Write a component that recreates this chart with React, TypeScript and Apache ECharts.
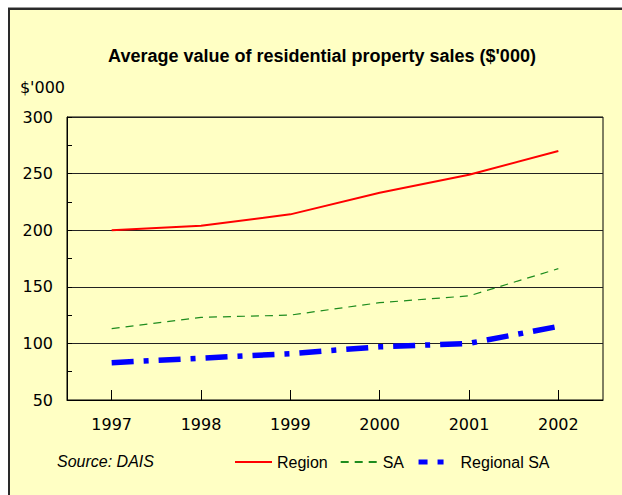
import React, { useEffect, useRef } from "react";
import * as echarts from "echarts";

const years = ["1997", "1998", "1999", "2000", "2001", "2002"];
const regionValues = [200, 204, 214, 233, 249, 270];
const saValues = [113, 123, 125, 136, 142, 166];
const regionalSaValues = [83, 87, 91, 97, 100, 115];

const titleText = "Average value of residential property sales ($'000)";
const yAxisName = "$'000";
const sourceText = "Source: DAIS";

const BG = "#FFFFC4";
const TEXT_FONT = "'Liberation Sans', Arial, sans-serif";
const NUM_FONT = "'DejaVu Sans', sans-serif";

export default function App() {
  const ref = useRef<HTMLDivElement>(null);

  useEffect(() => {
    if (!ref.current) return;
    const chart = echarts.init(ref.current, undefined, { renderer: "svg" });
    chart.setOption({
      animation: false,
      backgroundColor: BG,
      title: {
        text: titleText,
        left: 312,
        top: 37,
        padding: 0,
        textAlign: "center",
        textStyle: {
          fontFamily: TEXT_FONT,
          fontWeight: "bold",
          fontSize: 18,
          color: "#000",
        },
      },
      grid: {
        left: 57,
        right: 19,
        top: 107,
        bottom: 95,
        show: true,
        borderColor: "#000",
        borderWidth: 1,
        backgroundColor: "transparent",
        containLabel: false,
      },
      legend: {
        left: 224,
        top: 444,
        padding: 0,
        itemWidth: 37,
        itemHeight: 14,
        itemGap: 12,
        itemStyle: { opacity: 0 },
        textStyle: { fontFamily: TEXT_FONT, fontSize: 16, color: "#000" },
        data: [
          { name: "Region" },
          { name: "SA" },
          { name: "Regional SA", lineStyle: { type: [9, 10, 6, 20], width: 5 } },
        ],
      },
      graphic: [
        {
          type: "text",
          left: 47,
          top: 443,
          style: {
            text: sourceText,
            fontFamily: TEXT_FONT,
            fontStyle: "italic",
            fontSize: 16,
            fill: "#000",
          },
        },
      ],
      xAxis: {
        type: "category",
        data: years,
        boundaryGap: true,
        axisLine: { show: true, lineStyle: { color: "#000", width: 1 } },
        axisTick: { show: true, inside: true, length: 10, alignWithLabel: true, lineStyle: { color: "#000" } },
        axisLabel: { margin: 16, fontFamily: NUM_FONT, fontSize: 16, color: "#000" },
        splitLine: { show: false },
      },
      yAxis: {
        type: "value",
        min: 50,
        max: 300,
        interval: 50,
        name: yAxisName,
        nameLocation: "end",
        nameGap: 30,
        nameTextStyle: {
          fontFamily: NUM_FONT,
          fontSize: 16,
          color: "#000",
          align: "right",
          verticalAlign: "middle",
          padding: [0, 2, 0, 0],
        },
        axisLine: { show: true, lineStyle: { color: "#000", width: 1 } },
        axisTick: { show: true, inside: true, length: 5, lineStyle: { color: "#000" } },
        minorTick: { show: true, splitNumber: 2, length: 5, lineStyle: { color: "#000" } },
        axisLabel: { margin: 14, fontFamily: NUM_FONT, fontSize: 16, color: "#000" },
        splitLine: { show: true, lineStyle: { color: "#222", width: 1 } },
      },
      series: [
        {
          name: "Region",
          type: "line",
          data: regionValues,
          symbol: "none",
          lineStyle: { color: "#FF0000", width: 2 },
          itemStyle: { color: "#FF0000" },
        },
        {
          name: "SA",
          type: "line",
          data: saValues,
          symbol: "none",
          lineStyle: { color: "#1E8C1E", width: 1.2, type: [8, 6] },
          itemStyle: { color: "#1E8C1E" },
        },
        {
          name: "Regional SA",
          type: "line",
          data: regionalSaValues,
          symbol: "none",
          lineStyle: { color: "#0000FF", width: 5.5, type: [22, 10, 5, 10], cap: "butt" },
          itemStyle: { color: "#0000FF" },
        },
      ],
    });
    return () => chart.dispose();
  }, []);

  return (
    <div
      style={{
        position: "fixed",
        left: 8,
        top: 8,
        width: 612,
        height: 485,
        borderLeft: "2px solid #2a2a2a",
        borderTop: "2px solid #2a2a2a",
        boxShadow: "0 -1px 0 #999",
        background: BG,
      }}
    >
      <div ref={ref} style={{ width: 612, height: 485 }} />
    </div>
  );
}
